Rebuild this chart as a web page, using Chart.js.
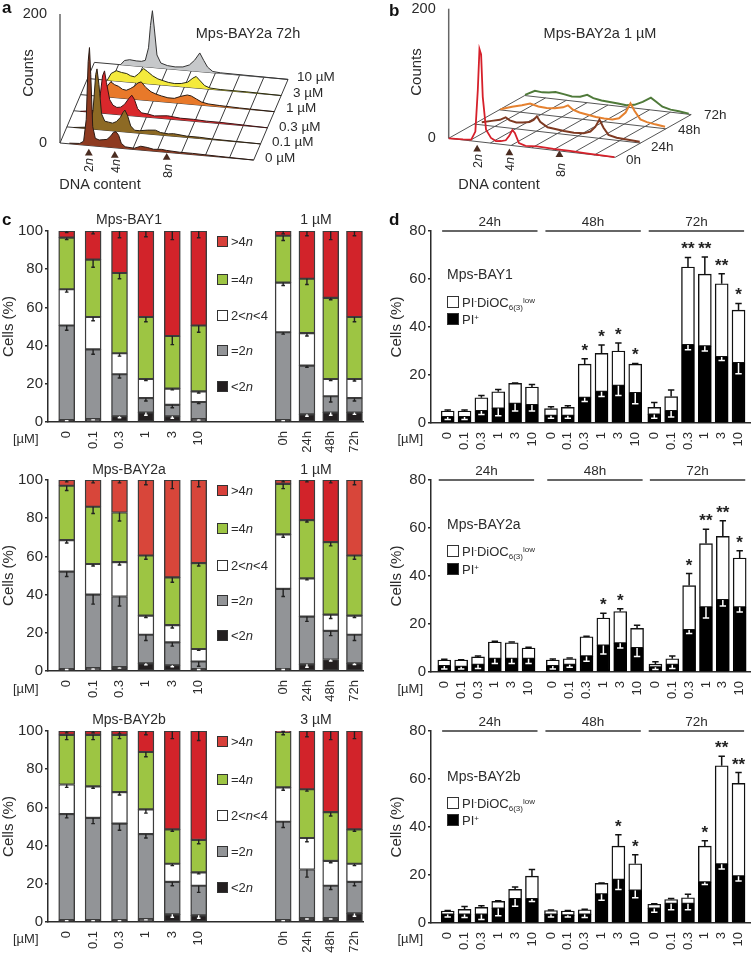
<!DOCTYPE html>
<html><head><meta charset="utf-8">
<script src="https://cdn.jsdelivr.net/npm/chart.js@4"></script>
<style>
html,body{margin:0;padding:0;background:#fff}
#fig{position:relative;width:752px;height:955px;overflow:hidden;font-family:"Liberation Sans",Arial,sans-serif;color:#2b2b2b;filter:blur(.35px)}
#fig canvas{position:absolute}
.t{position:absolute;white-space:nowrap;line-height:1}
.sw{position:absolute;box-sizing:border-box;border:1.5px solid #333}
i{font-style:italic}
.s{font-size:8px;position:relative;top:3px}.u{font-size:8px;position:relative;top:-4px}
</style></head><body><div id="fig"></div>
<script>
// ---------- panels a and b: histograms as [DNA content n, counts]
const a0uM=[[0.5,1],[1.3,2],[1.6,6],[1.8,40],[1.95,130],[2.05,152],[2.15,110],[2.3,30],[2.5,12],[2.8,10],[3.1,11],[3.4,12],[3.7,18],[3.9,24],[4.1,25],[4.3,20],[4.5,8],[4.8,3],[5.5,2],[6,6],[6.5,5],[7,3],[7.6,4],[8,3],[9,2],[10,2],[12,1],[14.7,0]];
const a01uM=[[0.3,0],[1.2,2],[1.6,5],[1.8,30],[2,85],[2.1,94],[2.25,70],[2.45,25],[2.7,14],[3,13],[3.3,12],[3.6,15],[3.9,22],[4.1,30],[4.25,34],[4.45,26],[4.7,10],[5,4],[5.4,4],[6,6],[6.6,7],[7,4],[7.6,3],[8,4],[9,2],[10,2],[11,1],[14.7,0]];
const a03uM=[[0.3,0],[1,2],[1.5,4],[1.8,25],[2,58],[2.15,66],[2.3,48],[2.55,22],[2.8,14],[3.1,11],[3.4,12],[3.7,17],[4,26],[4.25,32],[4.45,26],[4.7,12],[5,6],[5.5,5],[6,3],[6.5,4],[7,5],[7.5,4],[8,3],[9,3],[10,2],[11,2],[14.7,0]];
const a1uM=[[1,0],[1.5,5],[1.8,16],[2.1,24],[2.4,20],[2.7,18],[3,14],[3.3,13],[3.6,16],[3.9,20],[4.2,26],[4.45,28],[4.8,20],[5.2,14],[5.6,11],[6,9],[6.5,7],[7,7],[7.5,11],[8,14],[8.3,13],[8.7,9],[9.1,5],[9.6,3],[10.5,2],[12,1],[14.7,0]];
const a3uM=[[1.3,0],[1.6,11],[2,16],[2.4,14],[2.8,13],[3.1,10],[3.4,9],[3.7,14],[4.1,23],[4.4,19],[4.8,13],[5.2,9],[5.6,7],[6,5],[6.5,4],[7,5],[7.5,8],[7.9,15],[8.15,18],[8.4,13],[8.8,5],[9.2,2],[10,1],[12,1],[14.7,0]];
const a10uM=[[1.8,0],[2.1,7],[2.5,9],[3,8],[3.4,8],[3.7,10],[3.95,30],[4.1,65],[4.25,88],[4.4,60],[4.6,20],[4.9,8],[5.4,5],[6,4],[6.6,5],[7.1,9],[7.5,17],[7.9,29],[8.2,18],[8.5,8],[8.9,2],[9.5,1],[14.7,0]];
const b0h=[[0.13,0],[1,1],[1.5,2],[1.75,15],[1.9,80],[2,143],[2.1,135],[2.2,70],[2.4,20],[2.7,8],[3,4],[3.3,5],[3.6,7],[3.8,14],[4,24],[4.15,20],[4.4,5],[4.8,2],[5.5,3],[6.5,2],[7.5,2],[8.5,1],[10.2,0]];
const b24h=[[0.6,4],[1.2,8],[1.7,11],[2.05,16],[2.3,12],[2.7,10],[3.1,11],[3.5,13],[3.75,17],[3.95,23],[4.15,15],[4.6,8],[5,7],[5.6,5],[6.2,4],[6.8,5],[7.2,9],[7.5,17],[7.75,29],[8,17],[8.3,7],[8.8,4],[9.5,3],[10.2,2]];
const b48h=[[0.2,1],[0.9,7],[1.5,11],[2,15],[2.5,12],[3,11],[3.5,12],[4,15],[4.3,19],[4.6,13],[5,10],[5.5,8],[6,6],[6.5,5],[7,5],[7.4,8],[7.8,18],[8.1,33],[8.35,22],[8.7,10],[9.1,7],[9.6,5],[10.2,3]];
const b72h=[[0.15,1],[0.75,9],[1.2,8],[1.6,9],[2,11],[2.5,9],[3,7],[3.5,8],[3.93,12],[4.3,8],[4.8,6],[5.3,5],[5.8,4],[6.3,3],[6.8,5],[7.3,11],[7.8,19],[8.1,14],[8.5,7],[9,4],[9.5,3],[10.1,1]];
const aMarks=[2,4,8], bMarks=[1.86,3.82,6.86];
// ---------- panel c: categories and stacked values
const cLabels=['0','0.1','0.3','1','3','10','0h','24h','48h','72h'];
const c1Lt2=[1,1.5,3,5,3,1.5,1,4,5,5], c1Eq2=[49.5,36.5,22,7.5,6,9,46,25.5,8.5,7.5], c1Mid=[19,17,11,10,8.5,5.5,26,17,9,10], c1Eq4=[27,30,42,32.5,27.5,34.5,24.5,28.5,42.5,32.5], c1Gt4=[3.5,15,22,45,55,49.5,2.5,25,35,45];
const c1Lt2E=[0.3,0.4,0.8,1.5,1,0.5,0.3,1,1.5,1], c1Eq2E=[2.5,2.5,2,1.5,1.5,0.8,1,0.8,3,1.5], c1MidE=[1.5,2,1.5,0.8,0.7,0.8,1.5,1.5,0.8,1], c1Eq4E=[1,4,3,2.5,4.5,3.5,2.5,3,1,2.5], c1Gt4E=[0.8,1.5,3.5,3,4.5,3.5,1.5,2.5,4.5,2.5];
const c2Lt2=[1,1.5,2,4,3,1,1,3.5,6,4], c2Eq2=[51,38.5,37,15,12,4,42,25,15,15], c2Mid=[16.5,16,18,10,9,6.5,28.5,20,8.5,10], c2Eq4=[28.5,30,26,31.5,25,45,26.5,30.5,38,31.5], c2Gt4=[3,14,17,39.5,51,43.5,2,21,32.5,39.5];
const c2Lt2E=[0.2,0.5,0.5,0.8,0.8,0.2,0.2,1.5,0.8,0.6], c2Eq2E=[2.5,5,5,3,2,2.5,4,2.5,2.5,3], c2MidE=[1.5,1,1.5,1,1.5,0.7,1.5,0.8,2,1], c2Eq4E=[2.5,3.5,4.5,2,2.5,1.5,2.5,1,2,2], c2Gt4E=[1,1.5,1.5,2.5,4.5,3.5,1,1,1.5,2.5];
const c3Lt2=[1,1,1,1.5,4,3.5,1,2,2,4.5], c3Eq2=[55.5,53.5,50.5,44.5,17,15.5,51.5,25.5,17,16.5], c3Mid=[15.5,16.5,16.5,13,9.5,7,18,16.5,13,9.5], c3Eq4=[26,27,30,30,18,17,29,25.5,25.5,18], c3Gt4=[2,2,2,11,51.5,57,0.5,30.5,42.5,51.5];
const c3Lt2E=[0.3,0.3,0.3,0.4,1.5,1.5,0.3,0.4,0.4,1.5], c3Eq2E=[2,3,3.5,2,2,3.5,3,4,2,2], c3MidE=[1.5,1,1.5,2,1,0.8,1.5,2,1,1], c3Eq4E=[2.5,2.5,2,2.5,1,2,1.5,1,2,1], c3Gt4E=[1,1,1.5,2,4,5,0.3,3,4.5,4];
// ---------- panel d
const dLabels=['0','0.1','0.3','1','3','10','0','0.1','0.3','1','3','10','0','0.1','0.3','1','3','10'];
const dGroups=['24h','48h','72h'];
const d1Pi=[2.5,2.5,5,6,8,7.5,3,3,10.5,13,15.5,12.5,3.5,5,32.5,32,27.5,25];
const d1Total=[5,5,10.5,13,16.5,15,6,6.5,24.5,29,30,24.5,6.5,11,65,62,58,47];
const d1TotalE=[0.4,0.4,1,1,0.2,1,0.8,0.7,2.3,3.5,3.3,0.3,2,2.7,4,7.2,4.2,2.8];
const d1PiE=[1,1,1.5,3,3,2.5,1,1,1.5,2,4,4.5,1.5,2.5,2,2,1.5,4.5];
const d1Stars=['','','','','','','','','*','*','*','*','','','**','**','**','*'];
const d2Pi=[2.5,2.2,3,5.5,5.5,5.5,2.5,3,6.5,11,12,10,2,3,17.5,27,30,27];
const d2Total=[5,5,6.3,12.5,12.2,10,5,5.5,14.7,22.5,25.2,18.2,3.3,5.5,36,53.5,56.5,47.5];
const d2TotalE=[0.3,0.1,0.4,0.3,0.3,0.3,0.4,0.3,0.2,2,1.2,1.3,1,1.2,5,6,6.5,3];
const d2PiE=[1.2,1,1.5,2,2,2,1.2,1,2,3.5,2,3.5,1,1.5,1.5,4.5,2.5,2];
const d2Stars=['','','','','','','','','','*','*','','','','*','**','**','*'];
const d3Pi=[3.5,3.5,3.5,6,10,10,3.5,3.2,3.5,12,18,13.5,6,8,8,17,24.5,19.5];
const d3Total=[5,5.7,6.5,9,14,19.5,5.2,5,5.5,16.5,32,24.7,7.8,9.8,10.5,32,65.5,58.2];
const d3TotalE=[0.2,1.2,0.7,0.3,1,2.8,0.2,0.2,0.2,0.2,4.8,3.7,0.2,0.4,1.5,2.3,4,4.5];
const d3PiE=[1,1.2,2,3,3,1,1,0.7,1.2,2.5,4,3,1.5,2.5,2.5,1,2,2];
const d3Stars=['','','','','','','','','','','*','*','','','','*','**','**'];

Chart.defaults.font.family='"Liberation Sans",Arial,sans-serif';
Chart.defaults.color='#2b2b2b';
Chart.defaults.animation=false;
const fig=document.getElementById('fig');
const INK='#2b2b2b';
function txt(html,x,y,o={}){
  const e=document.createElement('div');e.className='t';e.innerHTML=html;
  const tx=o.anchor==='l'?'0':o.anchor==='r'?'-100%':'-50%';
  e.style.cssText=`left:${x}px;top:${y}px;font-size:${o.size||14}px;${o.bold?'font-weight:bold;color:#111;':''}transform:translate(${tx},-50%)${o.rot?` rotate(${o.rot}deg)`:''}`;
  fig.appendChild(e);
}
function swatch(x,y,w,color){
  const e=document.createElement('div');e.className='sw';
  e.style.cssText=`left:${x}px;top:${y-w/2}px;width:${w}px;height:${w}px;background:${color}`;
  fig.appendChild(e);
}
function canvas(l,t,w,h){
  const c=document.createElement('canvas');c.width=w;c.height=h;
  c.style.cssText=`left:${l}px;top:${t}px;width:${w}px;height:${h}px`;
  fig.appendChild(c);return c;
}
const noPad=s=>{s.paddingLeft=s.paddingRight=s.paddingTop=s.paddingBottom=0;};
// ---------- waterfall panels
function waterfall(g){
  const proj=(n,c,d)=>({x:n+g.dx*d,y:c+g.dy*d-g.slope*(n-g.n0)});
  const ds=[];
  g.series.forEach((s,d)=>ds.push({
    data:s.pts.map(p=>proj(p[0],p[1],d)),
    borderColor:s.line,borderWidth:s.lw,backgroundColor:s.fill||'transparent',
    fill:s.fill?g.series.length+d:false,pointRadius:0,tension:0,clip:false}));
  const depths=g.series.length;
  for(let d=0;d<depths;d++)ds.push({data:[proj(g.n0,0,d),proj(g.nEnd,0,d)],borderColor:g.gridColor,borderWidth:1,pointRadius:0,clip:false,fill:false});
  const div=(g.nEnd-g.n0)/8;
  for(let k=0;k<=8;k++){const n=g.n0+k*div;ds.push({data:[proj(n,0,0),proj(n,0,depths-1)],borderColor:g.gridColor,borderWidth:1,pointRadius:0,clip:false,fill:false});}
  ds.push({data:[{x:g.n0,y:0},{x:g.n0,y:200}],borderColor:'#666',borderWidth:1.5,pointRadius:0,clip:false,fill:false});
  ds.push({data:g.marks.map((n,i)=>proj(n,-g.markDrop[i],0)),showLine:false,pointStyle:'triangle',pointRadius:4.5,pointBorderWidth:0,pointBackgroundColor:'#4a2c20',clip:false,fill:false});
  const W=g.ox-g.left,T=g.T,B=12;
  new Chart(canvas(g.left,0,g.w,g.h),{type:'line',data:{datasets:ds},options:{
    responsive:false,events:[],layout:{padding:{top:T,left:0,right:0,bottom:B}},
    plugins:{legend:{display:false},tooltip:{enabled:false}},
    scales:{
      x:{type:'linear',bounds:'data',display:false,min:g.n0,max:g.n0+(g.w-W)/g.pxN},
      y:{type:'linear',bounds:'data',min:-(g.h-B-g.oy)/g.pxC,max:(g.oy-T)/g.pxC,border:{display:false},grid:{display:false},
         afterFit(s){s.width=W;noPad(s);},afterBuildTicks(s){s.ticks=[{value:0},{value:200}];},
         ticks:{autoSkip:false,padding:5,font:{size:14.5},color:INK,callback:v=>String(v)}}
    }}});
}
waterfall({left:0,ox:60,oy:143,w:330,h:178,T:9,pxN:13.2,pxC:0.645,n0:-0.22,nEnd:14.7,dx:0.53,dy:25,slope:1.77,gridColor:'#3a3a3a',marks:aMarks,markDrop:[12,12,8],
 series:[{pts:a0uM,line:'#2a1a14',lw:1,fill:'#8e3a20'},{pts:a01uM,line:'#2a2014',lw:1,fill:'#8d6a24'},{pts:a03uM,line:'#3a1414',lw:1,fill:'#d9282c'},{pts:a1uM,line:'#2a1a10',lw:1,fill:'#e8792a'},{pts:a3uM,line:'#2a2a10',lw:1,fill:'#f4ea3c'},{pts:a10uM,line:'#333',lw:1,fill:'#c6c8ca'}]});
waterfall({left:376,ox:448.7,oy:138.3,w:376,h:178,T:8,pxN:16.7,pxC:0.648,n0:0.13,nEnd:10.25,dx:1.54,dy:22,slope:2.9,gridColor:'#555',marks:bMarks,markDrop:[12,12,6],
 series:[{pts:b0h,line:'#d6202a',lw:1.8},{pts:b24h,line:'#7f3a22',lw:2},{pts:b48h,line:'#e5812f',lw:2},{pts:b72h,line:'#4f7a3a',lw:2}]});
// ---------- shared axis helpers
function xAxis(slots,labels,min,max,size,pad){
  return {type:'linear',bounds:'data',offset:false,stacked:true,min,max,grid:{display:false,offset:false},border:{color:INK,width:1.5},
    afterFit(s){s.height=40;noPad(s);},afterBuildTicks(s){s.ticks=slots.map(v=>({value:v}));},
    ticks:{autoSkip:false,minRotation:90,maxRotation:90,padding:pad,font:{size},color:INK,callback:(v,i)=>labels[i]}};
}
function yAxis(max,W){
  return {type:'linear',stacked:true,min:0,max,border:{color:INK,width:1.5},
    grid:{drawOnChartArea:false,drawTicks:true,tickLength:3,color:INK,lineWidth:1.5},
    afterFit(s){s.width=W;noPad(s);},afterBuildTicks(s){const t=[];for(let v=0;v<=max;v+=20)t.push({value:v});s.ticks=t;},
    title:{display:true,text:'Cells (%)',font:{size:15},color:INK,padding:0},
    ticks:{padding:2,font:{size:15},color:INK,callback:v=>String(v)}};
}
// ---------- panel c
const cSlots=cLabels.map((_,i)=>i<6?i:8.2+(i-6)*0.9);
function stackC(topY,series,errs,redColors){
  const colors=['#231f20','#929497','#ffffff','#9dc543',redColors||'#d2232a'];
  const errColors=['#fff','#222','#222','#222','#222'];
  const pts=v=>cSlots.map((x,i)=>({x,y:v[i]}));
  const plugin={id:'err',afterDatasetsDraw(ch){
    const c=ch.ctx,X=ch.scales.x,Y=ch.scales.y;c.save();
    cSlots.forEach((sl,i)=>{let top=0;series.forEach((s,k)=>{
      top+=s[i];const px=X.getPixelForValue(sl),y1=Y.getPixelForValue(top),y2=Y.getPixelForValue(top-errs[k][i]);
      c.strokeStyle=errColors[k];c.lineWidth=1.4;c.beginPath();c.moveTo(px,y1);c.lineTo(px,y2);c.moveTo(px-1.8,y2);c.lineTo(px+1.8,y2);c.stroke();
    });});c.restore();}};
  new Chart(canvas(0,topY-26,376,26+191.3+40),{type:'bar',
    data:{datasets:series.map((s,k)=>({data:pts(s),backgroundColor:colors[k],borderColor:'#3c3c3c',borderWidth:1.4,borderSkipped:false,barThickness:16}))},
    plugins:[plugin],
    options:{responsive:false,events:[],layout:{padding:{top:26,right:13,left:0,bottom:0}},
      plugins:{legend:{display:false},tooltip:{enabled:false}},
      scales:{x:xAxis(cSlots,cLabels,(48-66.7)/26.4,(363-66.7)/26.4,13,1),y:yAxis(100,48)}}});
}
const softRed='#d8463a',deep='#d2232a';
stackC(231,[c1Lt2,c1Eq2,c1Mid,c1Eq4,c1Gt4],[c1Lt2E,c1Eq2E,c1MidE,c1Eq4E,c1Gt4E]);
stackC(480,[c2Lt2,c2Eq2,c2Mid,c2Eq4,c2Gt4],[c2Lt2E,c2Eq2E,c2MidE,c2Eq4E,c2Gt4E],cLabels.map((l,i)=>(i===7||i===8)?deep:softRed));
stackC(731,[c3Lt2,c3Eq2,c3Mid,c3Eq4,c3Gt4],[c3Lt2E,c3Eq2E,c3MidE,c3Eq4E,c3Gt4E]);
// ---------- panel d
function stackD(topY,pi,total,totalE,piE,stars,gaps,firstX){
  const slots=dLabels.map((_,i)=>i+gaps[Math.floor(i/6)]);
  const step=16.85;
  const white=total.map((v,i)=>v-pi[i]);
  const plugin={id:'err',afterDatasetsDraw(ch){
    const c=ch.ctx,X=ch.scales.x,Y=ch.scales.y;c.save();
    slots.forEach((sl,i)=>{
      const px=X.getPixelForValue(sl);
      let y1=Y.getPixelForValue(total[i]),y2=Y.getPixelForValue(total[i]+totalE[i]);
      c.strokeStyle='#111';c.lineWidth=1.5;c.beginPath();c.moveTo(px,y1);c.lineTo(px,y2);c.moveTo(px-3.2,y2);c.lineTo(px+3.2,y2);c.stroke();
      y1=Y.getPixelForValue(pi[i]);y2=Y.getPixelForValue(pi[i]-piE[i]);
      c.strokeStyle='#fff';c.beginPath();c.moveTo(px,y1);c.lineTo(px,y2);c.moveTo(px-3.2,y2);c.lineTo(px+3.2,y2);c.stroke();
      if(stars[i]){c.fillStyle='#222';c.font='bold 17px "Liberation Sans"';c.textAlign='center';c.textBaseline='alphabetic';
        const ys=Y.getPixelForValue(total[i]+totalE[i]);c.fillText(stars[i],px,ys-3);}
    });
    dGroups.forEach((g,k)=>{
      const a=X.getPixelForValue(slots[k*6]-0.33),b=X.getPixelForValue(slots[k*6+5]+0.33),y=Y.getPixelForValue(80);
      c.strokeStyle='#333';c.lineWidth=1.3;c.beginPath();c.moveTo(a,y);c.lineTo(b,y);c.stroke();
      c.fillStyle=INK;c.font='13.5px "Liberation Sans"';c.textAlign='center';c.textBaseline='bottom';c.fillText(g,(a+b)/2,y-2);
    });
    c.restore();}};
  const W=43,L=388;
  new Chart(canvas(L,topY-26,364,26+192+40),{type:'bar',
    data:{datasets:[
      {data:slots.map((x,i)=>({x,y:pi[i]})),backgroundColor:'#000',borderColor:'#000',borderWidth:1.4,borderSkipped:false,barThickness:13},
      {data:slots.map((x,i)=>({x,y:white[i]})),backgroundColor:'#fff',borderColor:'#111',borderWidth:1.4,borderSkipped:false,barThickness:13}]},
    plugins:[plugin],
    options:{responsive:false,events:[],layout:{padding:{top:26,right:2,left:0,bottom:0}},
      plugins:{legend:{display:false},tooltip:{enabled:false}},
      scales:{x:xAxis(slots,dLabels,(431-firstX)/step,(750-firstX)/step,13,1),y:yAxis(80,W)}}});
}
stackD(230.7,d1Pi,d1Total,d1TotalE,d1PiE,d1Stars,[0,0.13,0.26],447.7);
stackD(480,d2Pi,d2Total,d2TotalE,d2PiE,d2Stars,[0,0.44,0.53],444.3);
stackD(730.7,d3Pi,d3Total,d3TotalE,d3PiE,d3Stars,[0,0.13,0.26],447.7);
// ---------- text
txt('a',2,7,{size:17,bold:true,anchor:'l'});txt('b',389,10,{size:17,bold:true,anchor:'l'});
txt('c',2,219,{size:17,bold:true,anchor:'l'});txt('d',389,219,{size:17,bold:true,anchor:'l'});
txt('Mps-BAY2a 72h',248,33,{size:14.5});txt('Mps-BAY2a 1 µM',600,33,{size:14.5});
txt('Counts',27,73,{size:15,rot:-90});txt('Counts',415,72,{size:15,rot:-90});
txt('DNA content',100,184,{size:14.5});txt('DNA content',499,184,{size:14.5});
[['10 µM',297,77],['3 µM',293,93],['1 µM',286,108],['0.3 µM',279,127],['0.1 µM',272,142],['0 µM',265,158],['72h',704,115],['48h',678,130],['24h',651,147],['0h',626,160]].forEach(l=>txt(l[0],l[1],l[2],{size:13.5,anchor:'l'}));
[['2',89,165],['4',116,166],['8',168,171],['2',477.7,161],['4',510.3,164],['8',561,170]].forEach(l=>txt(l[0]+'<i>n</i>',l[1],l[2],{size:12.5,rot:-90}));
[[219,'Mps-BAY1','1 µM'],[469,'Mps-BAY2a','1 µM'],[719,'Mps-BAY2b','3 µM']].forEach(r=>{txt(r[1],129,r[0],{size:14});txt(r[2],316,r[0],{size:14});});
const legC=[['#d8403a','&gt;4<i>n</i>'],['#9dc543','=4<i>n</i>'],['#fff','2&lt;<i>n</i>&lt;4'],['#929497','=2<i>n</i>'],['#231f20','&lt;2<i>n</i>']];
[[241,279,315,350,386],[490,528,565,600,635],[741,779,815,851,887]].forEach(ys=>ys.forEach((y,i)=>{swatch(216.5,y,11,legC[i][0]);txt(legC[i][1],231,y,{size:13,anchor:'l'});}));
[438,688,938].forEach(y=>{txt('[µM]',13,y,{size:13,anchor:'l'});txt('[µM]',423,y,{size:13,anchor:'r'});});
[[274,301.7,319,'Mps-BAY1'],[524,551,568.5,'Mps-BAY2a'],[775.7,802.7,820,'Mps-BAY2b']].forEach(r=>{
  txt(r[3],447,r[0],{size:14,anchor:'l'});
  swatch(446.5,r[1],12,'#fff');swatch(446.5,r[2],12,'#000');
  txt('PI<span class="u">-</span>DiOC<span class="s">6(3)</span><span class="u">low</span>',462,r[1],{size:13,anchor:'l'});
  txt('PI<span class="u">+</span>',462,r[2],{size:13,anchor:'l'});
});
</script></body></html>
